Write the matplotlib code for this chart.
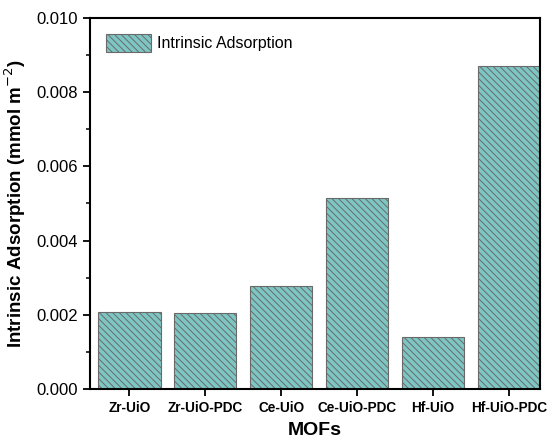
import matplotlib
matplotlib.use('Agg')
import matplotlib.pyplot as plt
from matplotlib.ticker import MultipleLocator

plt.rcParams['font.family'] = ['Liberation Sans', 'DejaVu Sans']
plt.rcParams['hatch.color'] = '#3f6f70'
plt.rcParams['hatch.linewidth'] = 0.7

mofs = ['Zr-UiO', 'Zr-UiO-PDC', 'Ce-UiO', 'Ce-UiO-PDC', 'Hf-UiO', 'Hf-UiO-PDC']
adsorption = [0.00208, 0.00206, 0.00278, 0.00515, 0.00141, 0.00871]

fig = plt.figure(figsize=(5.5, 4.43), dpi=100)
ax = fig.add_axes([0.1636, 0.1219, 0.8182, 0.8375])

x = list(range(len(mofs)))
ax.bar(x, adsorption, width=0.82, color='#7dc6c3', edgecolor='#6a6a6a',
       linewidth=0.8, hatch='\\\\\\\\\\', label='Intrinsic Adsorption')

ax.set_xlim(-0.52, 5.41)
ax.set_ylim(0, 0.010)
ax.yaxis.set_minor_locator(MultipleLocator(0.001))
ax.set_yticks([0, 0.002, 0.004, 0.006, 0.008, 0.010])
ax.set_yticklabels(['0.000', '0.002', '0.004', '0.006', '0.008', '0.010'], fontsize=12)
ax.set_xticks(x)
ax.set_xticklabels(mofs, fontsize=9.8, fontweight='bold')

ax.tick_params(axis='both', which='major', direction='out', length=5, width=1.3)
ax.tick_params(axis='x', which='major', pad=4)
ax.tick_params(axis='y', which='minor', direction='out', length=3, width=1.1)
for s in ax.spines.values():
    s.set_linewidth(1.5)

ax.set_xlabel('MOFs', fontsize=14, fontweight='bold', labelpad=5)
ax.set_ylabel('Intrinsic Adsorption (mmol m$^{-2}$)', fontsize=13.5,
              fontweight='bold', labelpad=6)

ax.legend(loc='upper left', frameon=False, fontsize=11.5, handlelength=2.8,
          handleheight=1.4, borderaxespad=0.6, handletextpad=0.4)

fig.savefig('out.png', dpi=100)
